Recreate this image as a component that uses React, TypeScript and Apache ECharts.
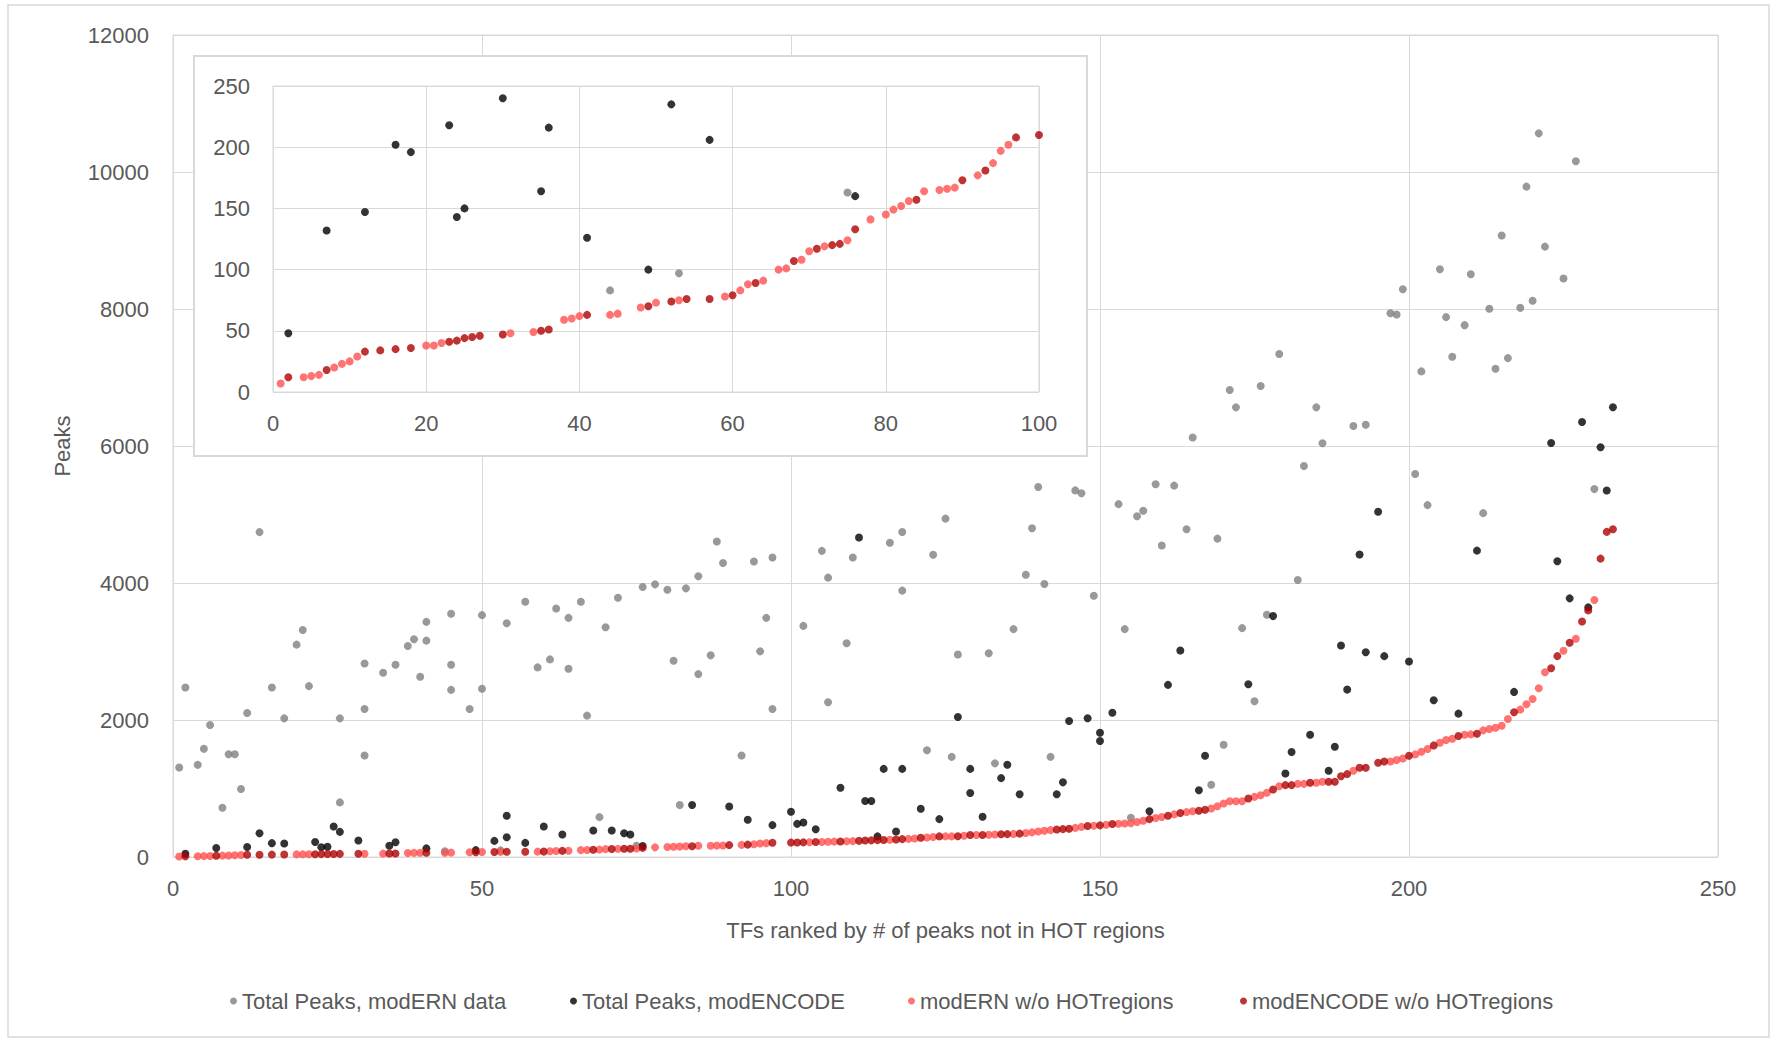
import React, { useEffect, useRef } from "react";
import * as echarts from "echarts";

// ---- Data ----
const seriesNames = [
  "Total Peaks, modERN data",
  "Total Peaks, modENCODE",
  "modERN w/o HOTregions",
  "modENCODE w/o HOTregions",
];
const seriesColors = ["#7F7F7F", "#000000", "#FF5050", "#AE0000"];

const modERNTotal: [number, number][] = [
  [1, 1306], [2, 2474], [4, 1345], [5, 1579], [6, 1927], [8, 719], [9, 1501], [10, 1501],
  [11, 993], [12, 2103], [14, 4743], [16, 2474], [18, 2024], [20, 3100], [21, 3315], [22, 2494],
  [27, 2024], [27, 797], [31, 2826], [31, 2161], [31, 1482], [34, 2689], [36, 2807], [38, 3081],
  [39, 3178], [40, 2631], [41, 3433], [41, 3159], [44, 83], [45, 3550], [45, 2807], [45, 2440],
  [48, 2161], [50, 3531], [50, 2455], [53, 97], [54, 3413], [57, 3726], [59, 2768], [61, 2885],
  [62, 3628], [64, 3491], [64, 2748], [66, 3726], [67, 2064], [69, 582], [70, 3355], [72, 3785],
  [75, 163], [76, 3941], [78, 3980], [80, 3902], [81, 2866], [82, 758], [83, 3922], [85, 4098],
  [85, 2670], [87, 2944], [88, 4606], [89, 4293], [92, 1482], [94, 4313], [95, 3002], [96, 3491],
  [97, 4372], [97, 2161], [102, 3374], [105, 4469], [106, 4078], [106, 2259], [109, 3120],
  [110, 4372], [116, 4588], [118, 4744], [118, 3889], [122, 1558], [123, 4412], [125, 4940],
  [126, 1462], [127, 2955], [132, 2975], [133, 1367], [136, 3327], [138, 4121], [139, 4799],
  [140, 5402], [141, 3985], [142, 1462], [146, 5352], [147, 5311], [149, 3814], [153, 5151],
  [154, 3327], [155, 573], [156, 4975], [157, 5055], [159, 5442], [160, 4548], [162, 5422],
  [164, 4784], [165, 6125], [168, 1055], [169, 4648], [170, 1638], [171, 6817], [172, 6564],
  [173, 3341], [175, 2273], [176, 6876], [177, 3537], [179, 7342], [182, 4044], [183, 5708],
  [185, 6564], [186, 6039], [191, 6292], [193, 6311], [197, 7939], [198, 7920], [199, 8289],
  [201, 5592], [202, 7089], [203, 5137], [205, 8581], [206, 7881], [207, 7303], [209, 7764],
  [210, 8508], [212, 5020], [213, 8003], [214, 7128], [215, 9072], [216, 7283], [218, 8017],
  [219, 9786], [220, 8120], [221, 10564], [222, 8911], [225, 8445], [227, 10156], [230, 5371],
];

const modENCODETotal: [number, number][] = [
  [2, 48], [7, 132], [12, 147], [14, 347], [16, 202], [18, 196], [23, 218], [24, 143], [25, 150],
  [26, 445], [27, 367], [30, 240], [35, 164], [36, 216], [41, 126], [49, 100], [52, 235],
  [54, 288], [54, 601], [57, 206], [60, 445], [63, 328], [68, 386], [71, 386], [73, 347],
  [74, 328], [76, 160], [84, 758], [90, 738], [93, 543], [97, 465], [100, 660], [101, 484],
  [102, 504], [104, 406], [108, 1012], [111, 4665], [112, 817], [113, 817], [114, 301],
  [115, 1286], [117, 372], [118, 1286], [121, 704], [124, 553], [127, 2045], [129, 1286],
  [129, 935], [131, 588], [134, 1151], [135, 1347], [137, 915], [143, 915], [144, 1090],
  [145, 1985], [148, 2025], [150, 1814], [150, 1693], [152, 2106], [158, 668], [161, 2513],
  [163, 3015], [166, 975], [167, 1477], [174, 2522], [178, 3517], [180, 1220], [181, 1532],
  [184, 1785], [187, 1259], [188, 1610], [189, 3088], [190, 2444], [192, 4415], [193, 2990],
  [195, 5039], [196, 2932], [200, 2854], [204, 2288], [208, 2093], [211, 4473], [217, 2410],
  [223, 6044], [224, 4317], [226, 3776], [228, 6351], [229, 3644], [231, 5981], [232, 5351],
  [233, 6565],
];

const modERNNoHot: [number, number][] = [
  [1, 7], [4, 12], [5, 13], [6, 14], [8, 20], [9, 23], [10, 25], [11, 29], [20, 38], [21, 38],
  [22, 40], [31, 48], [34, 49], [38, 59], [39, 60], [40, 62], [44, 63], [45, 64], [48, 69],
  [50, 73], [53, 75], [59, 78], [61, 83], [62, 88], [64, 91], [66, 100], [67, 101], [69, 108],
  [70, 115], [72, 119], [75, 124], [78, 141], [80, 145], [81, 149], [82, 152], [83, 156],
  [85, 164], [87, 165], [88, 166], [89, 167], [92, 177], [94, 187], [95, 197], [96, 202],
  [103, 216], [105, 220], [106, 222], [107, 224], [109, 229], [110, 232], [116, 252],
  [119, 265], [120, 270], [122, 285], [123, 292], [125, 301], [126, 301], [128, 310],
  [130, 321], [132, 325], [133, 328], [136, 337], [138, 350], [139, 360], [140, 372],
  [141, 382], [142, 392], [146, 425], [147, 440], [149, 457], [151, 470], [153, 485],
  [154, 488], [155, 492], [156, 510], [157, 530], [159, 570], [160, 585], [162, 622],
  [164, 655], [165, 668], [168, 707], [169, 741], [170, 780], [171, 815], [172, 815],
  [173, 815], [175, 878], [176, 902], [177, 937], [179, 1034], [182, 1068], [183, 1068],
  [185, 1083], [186, 1098], [191, 1259], [197, 1395], [198, 1415], [199, 1439], [201, 1498],
  [202, 1537], [203, 1576], [205, 1668], [206, 1707], [207, 1727], [209, 1785], [210, 1790],
  [212, 1849], [213, 1868], [214, 1888], [215, 1917], [216, 2015], [218, 2151], [219, 2229],
  [220, 2307], [221, 2463], [222, 2698], [225, 3010], [227, 3185], [230, 3751],
];

const modENCODENoHot: [number, number][] = [
  [2, 12], [7, 18], [12, 33], [14, 34], [16, 35], [18, 36], [23, 41], [24, 42], [25, 44],
  [26, 45], [27, 46], [30, 47], [35, 50], [36, 51], [41, 63], [49, 70], [52, 74], [54, 76],
  [57, 76], [60, 79], [63, 89], [68, 107], [71, 117], [73, 120], [74, 121], [76, 133],
  [84, 157], [90, 173], [93, 181], [97, 208], [100, 210], [101, 212], [102, 214], [104, 218],
  [108, 226], [111, 236], [112, 240], [113, 243], [114, 246], [115, 249], [117, 255],
  [118, 261], [121, 281], [124, 301], [127, 303], [129, 321], [131, 322], [134, 331],
  [135, 334], [137, 341], [143, 402], [144, 407], [145, 412], [148, 452], [150, 462],
  [152, 482], [158, 553], [161, 603], [163, 643], [166, 675], [167, 690], [174, 854],
  [178, 985], [180, 1049], [181, 1049], [184, 1083], [187, 1098], [188, 1098], [189, 1180],
  [190, 1210], [192, 1302], [193, 1302], [195, 1376], [196, 1395], [200, 1478], [204, 1629],
  [208, 1766], [211, 1800], [217, 2112], [223, 2756], [224, 2932], [226, 3127], [228, 3439],
  [229, 3600], [231, 4356], [232, 4746], [233, 4785],
];

const mainX = { min: 0, max: 250, interval: 50 };
const mainY = { min: 0, max: 12000, interval: 2000 };
const insetX = { min: 0, max: 100, interval: 20 };
const insetY = { min: 0, max: 250, interval: 50 };

const xTitle = "TFs ranked by # of peaks not in HOT regions";
const yTitle = "Peaks";

const FONT = "Liberation Sans, Arial, sans-serif";
const TEXT = "#595959";
const LINE = "#d9d9d9";

export default function App() {
  const ref = useRef<HTMLDivElement>(null);

  useEffect(() => {
    if (!ref.current) return;
    const chart = echarts.init(ref.current, undefined, { renderer: "svg" });
    const all = [modERNTotal, modENCODETotal, modERNNoHot, modENCODENoHot];

    const axisCommon = (fs: number, margin: number) => ({
      type: "value" as const,
      axisTick: { show: false },
      axisLine: { show: false },
      splitLine: { show: true, lineStyle: { color: LINE, width: 1 } },
      axisLabel: {
        color: TEXT,
        fontSize: fs,
        fontFamily: FONT,
        margin,
        formatter: (v: number) => String(v),
      },
    });

    const mainSeries = all.map((d, i) => ({
      type: "scatter" as const,
      name: seriesNames[i],
      xAxisIndex: 0,
      yAxisIndex: 0,
      data: d,
      symbol: "circle",
      symbolSize: 8,
      itemStyle: { color: seriesColors[i] },
      z: 2,
      silent: true,
    }));
    const insetSeries = all.map((d, i) => ({
      type: "scatter" as const,
      name: seriesNames[i],
      xAxisIndex: 1,
      yAxisIndex: 1,
      data: d.filter((p) => p[0] <= insetX.max && p[1] <= insetY.max),
      symbol: "circle",
      symbolSize: 8,
      itemStyle: { color: seriesColors[i] },
      z: 12,
      silent: true,
    }));

    const legendX = [230, 570, 908, 1240];
    const legends = seriesNames.map((n, i) => ({
      show: true,
      data: [n],
      left: legendX[i],
      top: 990,
      padding: 0,
      icon: "circle",
      itemWidth: 7,
      itemHeight: 7,
      selectedMode: false,
      textStyle: { color: TEXT, fontSize: 22, fontFamily: FONT },
    }));

    chart.setOption({
      animation: false,
      backgroundColor: "#ffffff",
      textStyle: { fontFamily: FONT },
      grid: [
        { left: 173, top: 35, width: 1545, height: 822, show: true, borderColor: LINE, borderWidth: 1, backgroundColor: "transparent" },
        { left: 273, top: 86, width: 766, height: 306, show: true, borderColor: LINE, borderWidth: 1, backgroundColor: "transparent", z: 11 },
      ],
      xAxis: [
        {
          ...axisCommon(22, 20),
          gridIndex: 0,
          ...mainX,
          name: xTitle,
          nameLocation: "middle",
          nameGap: 62,
          nameTextStyle: { color: TEXT, fontSize: 22, fontFamily: FONT },
        },
        { ...axisCommon(22, 20), gridIndex: 1, ...insetX, z: 11 },
      ],
      yAxis: [
        {
          ...axisCommon(22, 24),
          gridIndex: 0,
          ...mainY,
          name: yTitle,
          nameLocation: "middle",
          nameGap: 100,
          nameTextStyle: { color: TEXT, fontSize: 22, fontFamily: FONT },
        },
        { ...axisCommon(22, 23), gridIndex: 1, ...insetY, z: 11 },
      ],
      legend: legends,
      graphic: [
        {
          type: "rect",
          shape: { x: 8, y: 5, width: 1761, height: 1032 },
          style: { fill: "none", stroke: LINE, lineWidth: 1.5 },
          z: 0,
          silent: true,
        },
        {
          type: "rect",
          shape: { x: 194, y: 56, width: 893, height: 400 },
          style: { fill: "#ffffff", stroke: LINE, lineWidth: 2 },
          z: 10,
          silent: true,
        },
      ],
      series: [...mainSeries, ...insetSeries],
    });

    return () => chart.dispose();
  }, []);

  return (
    <div
      ref={ref}
      style={{ position: "fixed", left: 0, top: 0, width: 1771, height: 1040, background: "#fff" }}
    />
  );
}
